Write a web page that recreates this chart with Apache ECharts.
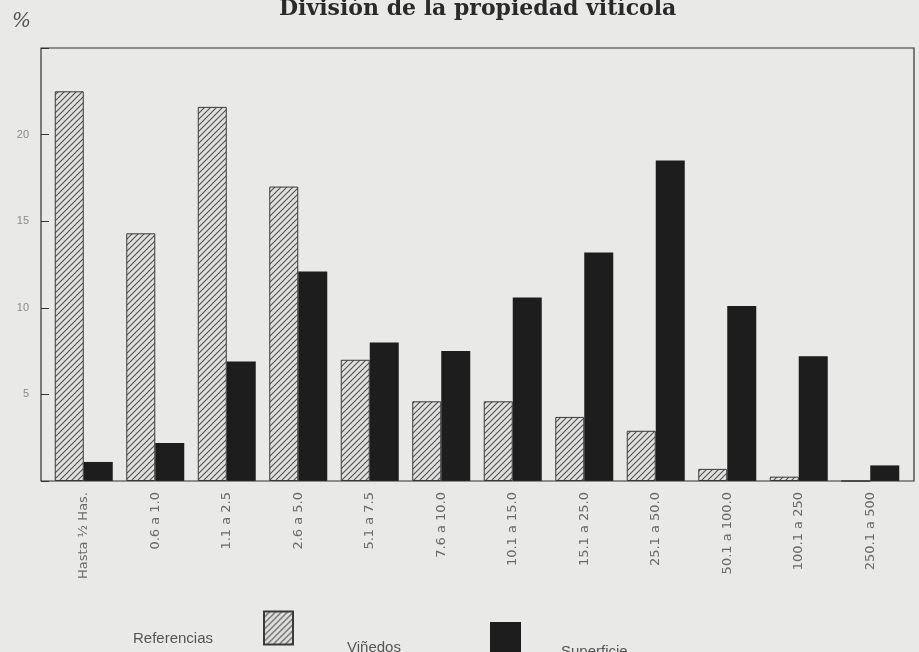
<!DOCTYPE html>
<html>
<head>
<meta charset="utf-8">
<script src="https://cdn.jsdelivr.net/npm/echarts@6/dist/echarts.min.js"></script>
<style>
html,body{margin:0;padding:0;background:#e9e9e8;}
#chart{width:919px;height:652px;}
</style>
</head>
<body>
<div id="chart"></div>
<script>
const categories = ['Hasta ½ Has.', '0.6 a 1.0', '1.1 a 2.5', '2.6 a 5.0', '5.1 a 7.5', '7.6 a 10.0', '10.1 a 15.0', '15.1 a 25.0', '25.1 a 50.0', '50.1 a 100.0', '100.1 a 250', '250.1 a 500'];
const vinedos = [22.5, 14.3, 21.6, 17.0, 7.0, 4.6, 4.6, 3.7, 2.9, 0.7, 0.25, 0];
const superficie = [1.1, 2.2, 6.9, 12.1, 8.0, 7.5, 10.6, 13.2, 18.5, 10.1, 7.2, 0.9];
const yTickLabels = ['5', '10', '15', '20'];

function hatch() {
  const c = document.createElement('canvas');
  c.width = 6; c.height = 6;
  const g = c.getContext('2d');
  g.fillStyle = '#e0e0df';
  g.fillRect(0, 0, 6, 6);
  g.strokeStyle = '#505050';
  g.lineWidth = 1.1;
  g.beginPath();
  g.moveTo(0, 6); g.lineTo(6, 0);
  g.moveTo(-1, 1); g.lineTo(1, -1);
  g.moveTo(5, 7); g.lineTo(7, 5);
  g.stroke();
  return c;
}

const chart = echarts.init(document.getElementById('chart'), null, {renderer: 'canvas'});
chart.setOption({
  backgroundColor: '#e9e9e8',
  animation: false,
  title: {
    text: 'División de la propiedad vitícola',
    left: 274,
    top: -7,
    textStyle: {fontFamily: 'DejaVu Serif', fontWeight: 'bold', fontSize: 22, color: '#2a2a2a'}
  },
  graphic: [
    {type: 'text', left: 12, top: 12, style: {text: '%', font: 'italic 20px "DejaVu Serif"', fill: '#555'}},
    {type: 'text', left: 133, top: 631, style: {text: 'Referencias', font: '15px "Liberation Sans"', fill: '#555'}}
  ],
  legend: [
    {data: ['Viñedos'], left: 263, top: 598, padding: 0, itemWidth: 29, itemHeight: 33, icon: 'rect',
     formatter: n => '\n\n' + n,
     textStyle: {fontFamily: 'Liberation Sans', fontSize: 15, lineHeight: 20, color: '#555', padding: [0, 0, 0, 49]}},
    {data: ['Superficie'], left: 490, top: 620, padding: 0, itemWidth: 31, itemHeight: 35, icon: 'rect',
     formatter: n => '\n\n' + n,
     textStyle: {fontFamily: 'Liberation Sans', fontSize: 15, lineHeight: 12, color: '#555', padding: [0, 0, 0, 35]}}
  ],
  grid: [
    {left: 48, right: 13, top: 48, bottom: 171, show: false},
    {left: 41, right: 5, top: 48, bottom: 171, show: true, borderColor: '#333', borderWidth: 1.2, backgroundColor: 'transparent', z: 3}
  ],
  xAxis: [
    {type: 'category', data: categories, gridIndex: 0,
     axisLine: {show: false}, axisTick: {show: false},
     axisLabel: {rotate: 90, margin: 11, fontFamily: 'DejaVu Sans', fontSize: 13, color: '#6a6a6a', interval: 0}},
    {type: 'value', gridIndex: 1, show: false}
  ],
  yAxis: [
    {type: 'value', gridIndex: 0, min: 0, max: 25, interval: 5, offset: 7,
     axisLine: {show: false},
     axisTick: {show: true, inside: true, length: 8, lineStyle: {color: '#333'}},
     splitLine: {show: false},
     axisLabel: {margin: 12, fontFamily: 'Liberation Sans', fontSize: 11, color: '#8a8a8a',
       formatter: v => yTickLabels.indexOf(String(v)) >= 0 ? String(v) : ''}},
    {type: 'value', gridIndex: 1, show: false}
  ],
  series: [
    {name: 'Viñedos', type: 'bar', xAxisIndex: 0, yAxisIndex: 0, data: vinedos,
     barWidth: 29, barGap: '0%',
     itemStyle: {color: {image: hatch(), repeat: 'repeat'}, borderColor: '#3a3a3a', borderWidth: 1}},
    {name: 'Superficie', type: 'bar', xAxisIndex: 0, yAxisIndex: 0, data: superficie,
     barWidth: 29, barGap: '0%',
     itemStyle: {color: '#1d1d1d', borderColor: '#1d1d1d', borderWidth: 0}}
  ]
});
</script>
</body>
</html>
